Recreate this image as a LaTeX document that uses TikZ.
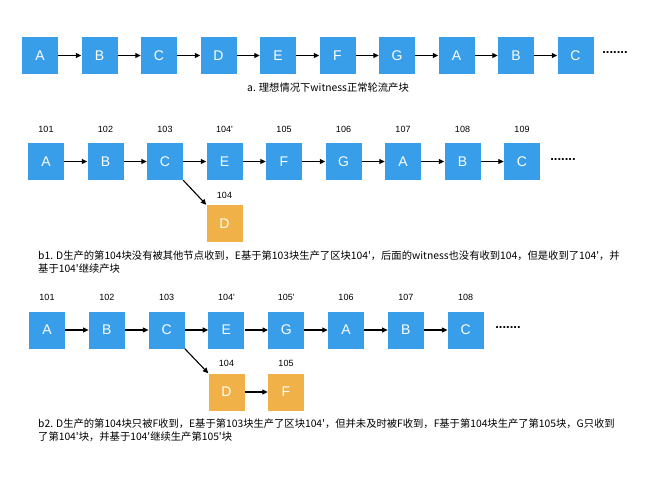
\documentclass[tikz,border=0pt]{standalone}
\usepackage{fontspec}
\newfontfamily\lat{Liberation Sans}
\newfontfamily\cjk{Noto Sans CJK SC}
\usetikzlibrary{arrows.meta}
\definecolor{bblue}{RGB}{56,158,234}
\definecolor{borange}{RGB}{240,178,72}
\begin{document}
\begin{tikzpicture}[x=1pt,y=-1pt,
  blk/.style={minimum width=36pt,minimum height=37pt,inner sep=0pt,text=white,font=\lat\fontsize{14}{14}\selectfont},
  bluebox/.style={blk,fill=bblue},
  orangebox/.style={blk,fill=borange},
  num/.style={inner sep=0pt,font=\lat\fontsize{9}{9}\selectfont},
  dotsnode/.style={inner sep=0pt,font=\lat\bfseries\fontsize{13}{13}\selectfont},
  link/.style={-{Triangle[length=5.5pt,width=5pt]},line width=1.1pt},
  capt/.style={inner sep=0pt,anchor=west,font=\cjk\fontsize{10.3}{12}\selectfont}]
\useasboundingbox (0,0) rectangle (650,478);
% ---------- row a ----------
\foreach \l [count=\i from 0] in {A,B,C,D,E,F,G,A,B,C}
  \node[bluebox] (a\i) at ({40+59.5*\i},55.5) {\l};
\foreach \i [evaluate=\i as \j using int(\i+1)] in {0,...,8}
  \draw[link] (a\i) -- (a\j);
\node[dotsnode] (adots) at (615,53) {.......};
\node[capt] (capa) at (247,88) {a. 理想情况下witness正常轮流产块};
% ---------- row b1 ----------
\foreach \l/\n [count=\i from 0] in {A/101,B/102,C/103,E/104',F/105,G/106,A/107,B/108,C/109}{
  \node[bluebox] (b\i) at ({46+59.5*\i},161.5) {\l};
  \node[num] (bn\i) at ({46+59.5*\i},129) {\n};}
\foreach \i [evaluate=\i as \j using int(\i+1)] in {0,...,7}
  \draw[link] (b\i) -- (b\j);
\node[dotsnode] (bdots) at (563,159.5) {.......};
\node[orangebox] (bd) at (224.5,223.5) {D};
\node[num] (bdn) at (224.5,195) {104};
\draw[link] (b2.south east) -- (bd.north west);
\node[capt] (capb1) at (38,256) {b1. D生产的第104块没有被其他节点收到，E基于第103块生产了区块104'，后面的witness也没有收到104，但是收到了104'，并};
\node[capt] (capb1b) at (38,269) {基于104'继续产块};
% ---------- row b2 ----------
\foreach \l/\n [count=\i from 0] in {A/101,B/102,C/103,E/104',G/105',A/106,B/107,C/108}{
  \node[bluebox] (c\i) at ({47+59.8*\i},330) {\l};
  \node[num] (cn\i) at ({47+59.8*\i},297) {\n};}
\foreach \i [evaluate=\i as \j using int(\i+1)] in {0,...,6}
  \draw[link] (c\i) -- (c\j);
\node[dotsnode] (cdots) at (508,328) {.......};
\node[orangebox] (cd) at (226.5,392) {D};
\node[orangebox] (cf) at (286,392) {F};
\node[num] (cdn) at (226.5,363) {104};
\node[num] (cfn) at (286,363) {105};
\draw[link] (c2.south east) -- (cd.north west);
\draw[link] (cd) -- (cf);
\node[capt] (capb2) at (38,424) {b2. D生产的第104块只被F收到，E基于第103块生产了区块104'，但并未及时被F收到，F基于第104块生产了第105块，G只收到};
\node[capt] (capb2b) at (38,437) {了第104'块，并基于104'继续生产第105'块};
\end{tikzpicture}
\end{document}
